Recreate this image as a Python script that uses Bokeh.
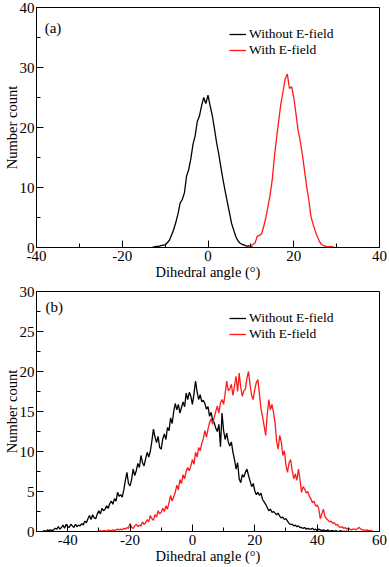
import numpy as np
from bokeh.plotting import figure
from bokeh.models import SingleIntervalTicker, Legend, LegendItem, Label, Range1d
from bokeh.layouts import column
from bokeh.embed import file_html
from bokeh.resources import INLINE

# ---------------- data (histogram counts, bin width 0.5 deg) ----------------
BIN = 0.5

# panel (a)
A_BLACK_START = -13.0
a_black = [0, 0.1, 0.2, 0.2, 0.3, 0.4, 0.4, 0.8, 1.2, 2.1,
           3.0, 4.2, 5.6, 7.4, 8.0, 9.1, 11.9, 13.0, 14.8, 17.2,
           18.6, 21.0, 21.9, 23.6, 25.0, 24.0, 25.4, 23.6, 22.0, 19.8,
           17.5, 15.6, 13.4, 11.3, 9.4, 7.6, 5.8, 4.0, 2.9, 1.8,
           1.1, 0.7, 0.5, 0.4, 0.2, 0.3, 0.1, 0]
A_RED_START = 9.0
a_red = [0, 0.1, 0.3, 0.5, 0.8, 1.9, 2.0, 2.3, 3.5, 5.0,
         6.9, 8.8, 11.4, 15.2, 18.3, 21.2, 24.0, 26.0, 28.1, 28.9,
         26.5, 26.8, 25.0, 22.4, 19.6, 17.8, 15.5, 12.9, 10.2, 8.0,
         5.2, 3.9, 2.8, 1.8, 1.0, 0.5, 0.3, 0.2, 0.1, 0.2,
         0.1, 0]

# panel (b)
B_BLACK_START = -48.0
b_black = [0, 0.1, 0, 0.2, 0.1, 0.2, 0.1, 0.2, 0.4, 0.3,
           0.6, 0.3, 0.5, 0.8, 0.4, 0.9, 0.6, 0.5, 0.9, 0.7,
           0.5, 0.9, 0.6, 0.8, 0.7, 1.0, 0.8, 1.3, 1.1, 1.6,
           2.0, 1.5, 2.1, 1.7, 1.6, 2.2, 2.6, 2.2, 2.9, 2.6,
           2.8, 3.2, 2.9, 3.5, 3.8, 3.4, 4.1, 3.8, 4.9, 4.4,
           4.6, 4.3, 5.2, 6.4, 7.4, 6.0, 5.7, 6.5, 7.8, 7.0,
           7.6, 8.5, 8.0, 9.5, 8.6, 8.2, 9.1, 9.9, 9.3, 10.0,
           11.3, 12.8, 11.8, 11.1, 11.9, 10.5, 10.3, 11.6, 12.2, 11.5,
           13.0, 12.6, 14.2, 13.5, 15.0, 16.0, 15.2, 15.9, 14.8, 15.5,
           16.2, 15.6, 17.3, 16.5, 17.4, 16.9, 15.9, 17.2, 18.8, 17.5,
           16.5, 17.1, 16.2, 16.4, 16.0, 15.3, 15.6, 14.4, 14.9, 13.9,
           13.6, 12.9, 12.5, 13.4, 10.6, 14.8, 12.6, 11.5, 12.3, 11.2,
           10.7, 11.2, 9.9, 9.0, 7.8, 8.6, 6.6, 6.1, 7.1, 6.8,
           7.4, 7.8, 7.0, 6.3, 5.6, 6.0, 5.1, 4.6, 4.9, 4.5,
           4.8, 4.0, 3.7, 3.4, 3.0, 2.6, 2.8, 2.4, 2.5, 2.3,
           2.1, 2.3, 1.9, 1.7, 1.8, 1.5, 1.6, 1.3, 1.0, 0.9,
           0.9, 0.7, 0.8, 0.6, 0.7, 0.5, 0.5, 0.4, 0.5, 0.3,
           0.4, 0.3, 0.3, 0.4, 0.2, 0.3, 0.1, 0.3, 0.2, 0.1,
           0.2, 0.1, 0.1, 0.2, 0, 0.1, 0.1, 0, 0.1, 0,
           0, 0.1, 0, 0, 0, 0, 0]
B_RED_START = -30.0
b_red = [0, 0.1, 0, 0.1, 0.1, 0, 0.2, 0.1, 0.1, 0.2,
         0.1, 0.2, 0.3, 0.2, 0.3, 0.2, 0.4, 0.3, 0.5, 0.4,
         1.0, 0.5, 0.4, 0.7, 0.9, 0.6, 0.8, 0.7, 1.2, 0.9,
         1.1, 1.5, 1.2, 2.0, 1.6, 1.4, 2.1, 1.8, 2.6, 2.2,
         2.4, 2.9, 2.5, 3.2, 2.8, 3.6, 4.5, 3.8, 4.3, 4.9,
         5.8, 5.2, 6.5, 6.0, 7.1, 6.6, 7.5, 8.0, 7.6, 8.2,
         9.0, 8.4, 9.9, 9.3, 10.5, 10.1, 11.0, 11.6, 12.6, 11.8,
         12.8, 13.6, 14.1, 13.4, 14.3, 15.0, 15.7, 14.8, 16.1, 16.5,
         15.9, 17.2, 18.8, 17.6, 17.8, 18.4, 17.0, 18.2, 19.4, 17.5,
         19.8, 18.0, 16.9, 17.6, 17.8, 19.2, 20.0, 18.3, 17.0, 16.5,
         17.8, 18.6, 19.0, 17.2, 15.3, 14.4, 13.2, 12.0, 14.6, 16.5,
         15.2, 15.9, 14.9, 13.6, 11.3, 10.3, 12.0, 11.2, 9.5, 10.1,
         8.3, 7.4, 8.6, 9.0, 7.6, 6.6, 7.2, 6.4, 7.8, 6.5,
         4.9, 5.6, 5.3, 4.8, 5.0, 4.4, 4.1, 3.6, 3.8, 3.2,
         3.3, 2.9, 1.6, 2.2, 2.8, 1.9, 1.6, 1.4, 1.2, 1.3,
         1.0, 1.1, 0.8, 0.9, 0.6, 0.5, 0.6, 0.4, 0.5, 0.3,
         0.4, 0.3, 0.2, 0.3, 0.3, 0.2, 0.4, 0.5, 0.3, 0.2,
         0.2, 0.1, 0.2, 0.1, 0.1, 0.1, 0]

SERIES_NAMES = ["Without E-field", "With E-field"]
X_LABEL = "Dihedral angle (°)"
Y_LABEL = "Number count"

FONT = "Liberation Serif"


def centers(start, vals):
    return start + BIN * np.arange(len(vals))


def one_item_legend(label, renderer, loc):
    leg = Legend(items=[LegendItem(label=label, renderers=[renderer])],
                 location=loc)
    leg.background_fill_alpha = 0
    leg.border_line_alpha = 0
    leg.padding = 0
    leg.margin = 0
    leg.spacing = 0
    leg.glyph_width = 17
    leg.glyph_height = 14
    leg.label_height = 14
    leg.label_standoff = 3
    leg.label_text_font = FONT
    leg.label_text_font_size = "13.5px"
    leg.label_text_color = "black"
    return leg


def make_panel(height, xr, yr, xint, yint, btop, bbot, black, red,
               tag, tag_pos, leg_locs):
    p = figure(width=389, height=height,
               x_range=Range1d(*xr), y_range=Range1d(*yr),
               output_backend="svg", toolbar_location=None,
               min_border_left=35, min_border_right=10,
               min_border_top=btop, min_border_bottom=bbot)
    p.xgrid.visible = False
    p.ygrid.visible = False
    p.outline_line_color = "black"
    p.outline_line_alpha = 1.0
    p.outline_line_width = 1
    p.background_fill_color = "white"
    p.border_fill_color = "white"

    p.xaxis.ticker = SingleIntervalTicker(interval=xint, num_minor_ticks=2)
    p.yaxis.ticker = SingleIntervalTicker(interval=yint, num_minor_ticks=2)
    p.xaxis.axis_label = X_LABEL
    p.yaxis.axis_label = Y_LABEL
    # plain hyphen-minus for negative tick labels, as in the original
    p.xaxis.major_label_overrides = {v: "-%d" % (-v) for v in range(-60, 0, xint)}
    for ax in (p.xaxis[0], p.yaxis[0]):
        ax.major_tick_in = 7
        ax.major_tick_out = 0
        ax.minor_tick_in = 4
        ax.minor_tick_out = 0
        ax.axis_line_color = "black"
        ax.major_tick_line_color = "black"
        ax.minor_tick_line_color = "black"
        ax.major_label_text_font = FONT
        ax.major_label_text_font_size = "15px"
        ax.major_label_text_color = "black"
        ax.axis_label_text_font = FONT
        ax.axis_label_text_font_size = "14.5px"
        ax.axis_label_text_font_style = "normal"
        ax.axis_label_text_color = "black"
    p.xaxis.major_label_standoff = 3
    p.xaxis.axis_label_standoff = 0
    p.yaxis.major_label_standoff = 2
    p.yaxis.axis_label_standoff = -3

    bx, by = black
    rx, ry = red
    r1 = p.line(bx, by, line_color="black", line_width=1.3)
    r2 = p.line(rx, ry, line_color="#ff1a1a", line_width=1.3)

    p.add_layout(one_item_legend(SERIES_NAMES[0], r1, leg_locs[0]))
    p.add_layout(one_item_legend(SERIES_NAMES[1], r2, leg_locs[1]))

    p.add_layout(Label(x=tag_pos[0], y=tag_pos[1], text=tag,
                       text_font=FONT, text_font_size="15px",
                       text_baseline="middle", text_color="black"))
    return p


pa = make_panel(282, (-40, 40), (0, 40), 20, 10, 7, 35,
                (centers(A_BLACK_START, a_black), a_black),
                (centers(A_RED_START, a_red), a_red),
                "(a)", (-38.1, 36.6), [(193, 205), (193, 189)])
pb = make_panel(284, (-50, 60), (0, 30), 20, 5, 9, 35,
                (centers(B_BLACK_START, b_black), b_black),
                (centers(B_RED_START, b_red), b_red),
                "(b)", (-47.1, 28.1), [(193, 205), (193, 189)])

layout = column(pa, pb)
open("out.html", "w").write(file_html(layout, INLINE))
